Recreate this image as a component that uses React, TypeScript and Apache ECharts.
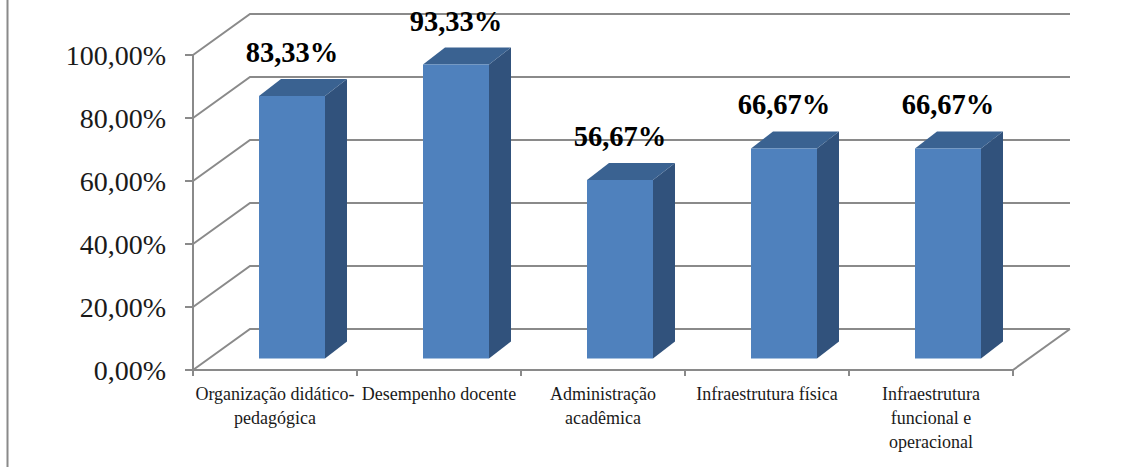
import React, { useEffect, useRef } from "react";
import * as echarts from "echarts";

const categories = [
  "Organização didático-\npedagógica",
  "Desempenho docente",
  "Administração\nacadêmica",
  "Infraestrutura física",
  "Infraestrutura\nfuncional e\noperacional",
];
const seriesValues = [83.33, 93.33, 56.67, 66.67, 66.67];
const tickValues = [0, 20, 40, 60, 80, 100];

const FONT = '"Liberation Serif", serif';
const GRID_COLOR = "#8a8a8a";
const fmt = (v: number) => v.toFixed(2).replace(".", ",") + "%";

export default function App() {
  const ref = useRef<HTMLDivElement>(null);
  useEffect(() => {
    const chart = echarts.init(ref.current!, undefined, { renderer: "svg" });
    const wallDx = 57;
    const wallDy = -41;
    const barOffX = 17;
    const barOffY = -11.5;
    const barHalf = 33;
    const depthX = 22;
    const depthY = -17;
    chart.setOption({
      animation: false,
      backgroundColor: "#ffffff",
      grid: { left: 193, top: 55, width: 820, height: 315, containLabel: false },
      graphic: [
        {
          type: "line",
          shape: { x1: 7.5, y1: 0, x2: 7.5, y2: 467 },
          style: { stroke: GRID_COLOR, lineWidth: 2 },
        },
      ],
      xAxis: {
        type: "category",
        data: categories,
        axisLine: { lineStyle: { color: GRID_COLOR, width: 2 } },
        axisTick: { show: true, length: 6, alignWithLabel: false, lineStyle: { color: GRID_COLOR, width: 2 } },
        axisLabel: {
          interval: 0,
          color: "#1a1a1a",
          fontFamily: FONT,
          fontSize: 18,
          lineHeight: 24,
          margin: 12,
          align: "center",
        },
        splitLine: { show: false },
      },
      yAxis: {
        type: "value",
        min: 0,
        max: 100,
        interval: 20,
        axisLine: { show: true, lineStyle: { color: GRID_COLOR, width: 2 } },
        axisTick: { show: true, length: 8, lineStyle: { color: GRID_COLOR, width: 2 } },
        axisLabel: {
          color: "#1a1a1a",
          fontFamily: FONT,
          fontSize: 28,
          margin: 27,
          formatter: (v: number) => fmt(v),
        },
        splitLine: { show: false },
      },
      series: [
        {
          type: "custom",
          z: 1,
          silent: true,
          data: tickValues.map((v) => [0, v]),
          renderItem: (_p: any, api: any) => {
            const v = api.value(1);
            const [, y] = api.coord([0, v]);
            const size = api.size([1, 0]);
            const left = api.coord([0, 0])[0] - size[0] / 2;
            const right = left + size[0] * categories.length;
            const stroke = { stroke: GRID_COLOR, lineWidth: 2, fill: "none" };
            const children: any[] = [
              {
                type: "polyline",
                shape: {
                  points: [
                    [left, y],
                    [left + wallDx, y + wallDy],
                    [right + wallDx, y + wallDy],
                  ],
                },
                style: stroke,
              },
            ];
            if (v === 0) {
              children.push({
                type: "line",
                shape: { x1: right, y1: y, x2: right + wallDx, y2: y + wallDy },
                style: stroke,
              });
            }
            return { type: "group", children };
          },
        },
        {
          type: "custom",
          z: 2,
          silent: true,
          data: seriesValues.map((v, i) => [i, v]),
          renderItem: (_p: any, api: any) => {
            const i = api.value(0);
            const v = api.value(1);
            const [cx, topY] = api.coord([i, v]);
            const [, baseY] = api.coord([i, 0]);
            const l = cx + barOffX - barHalf;
            const r = cx + barOffX + barHalf;
            const t = topY + barOffY;
            const b = baseY + barOffY;
            return {
              type: "group",
              children: [
                {
                  type: "polygon",
                  shape: { points: [[r, t], [r + depthX, t + depthY], [r + depthX, b + depthY], [r, b]] },
                  style: { fill: "#31527c" },
                },
                {
                  type: "polygon",
                  shape: { points: [[l, t], [l + depthX, t + depthY], [r + depthX, t + depthY], [r, t]] },
                  style: { fill: "#3a6291" },
                },
                {
                  type: "rect",
                  shape: { x: l, y: t, width: r - l, height: b - t },
                  style: { fill: "#4f81bd" },
                },
                {
                  type: "text",
                  x: cx + barOffX,
                  y: t - 43.5,
                  style: {
                    text: fmt(v),
                    fill: "#000000",
                    font: `bold 28.5px ${FONT}`,
                    align: "center",
                    verticalAlign: "middle",
                  },
                },
              ],
            };
          },
        },
      ],
    });
    return () => chart.dispose();
  }, []);
  return (
    <div
      ref={ref}
      style={{ position: "absolute", left: 0, top: 0, width: 1129, height: 468 }}
    />
  );
}
